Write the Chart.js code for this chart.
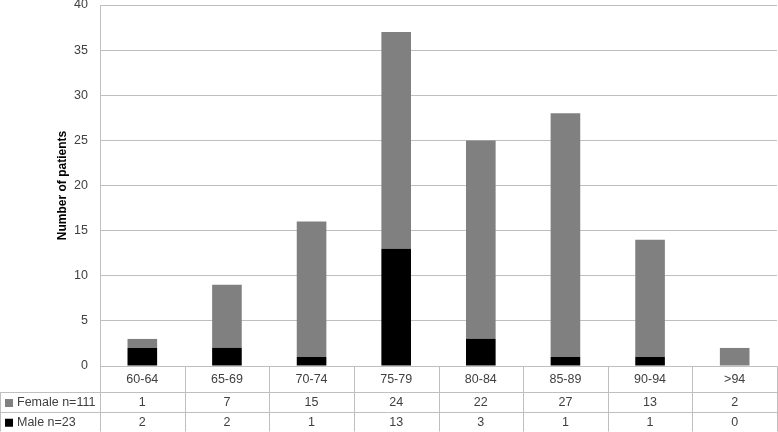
<!DOCTYPE html>
<html><head><meta charset="utf-8">
<script src="https://cdn.jsdelivr.net/npm/chart.js@4"></script>
<style>html,body{margin:0;padding:0;background:#fff}#wrap{width:778px;height:432px}</style>
</head><body><div id="wrap"><canvas id="c" width="778" height="432"></canvas></div>
<script>
const categories = ["60-64","65-69","70-74","75-79","80-84","85-89","90-94",">94"];
const female = [1,7,15,24,22,27,13,2];
const male = [2,2,1,13,3,1,1,0];
const femaleLabel = "Female n=111";
const maleLabel = "Male n=23";
const yTicks = [0,5,10,15,20,25,30,35,40];

const FONT = "'Liberation Sans', Arial, sans-serif";
const GRID = '#bfbfbf';
const TXT = '#404040';

const tablePlugin = {
  id: 'dataTable',
  afterDraw(chart) {
    const ctx = chart.ctx, xs = chart.scales.x, ca = chart.chartArea;
    const n = categories.length;
    const left = ca.left, right = ca.right, w = (right - left) / n;
    const y0 = ca.bottom, y1 = y0 + 26, y2 = y1 + 20, y3 = y2 + 19.5;
    ctx.save();
    ctx.strokeStyle = GRID; ctx.lineWidth = 1;
    ctx.beginPath();
    for (let i = 0; i <= n; i++) {
      const x = Math.round(left + i * w) + 0.5;
      ctx.moveTo(x, y0); ctx.lineTo(x, y3);
    }
    ctx.moveTo(0.5, y1); ctx.lineTo(0.5, y3);
    [y1, y2, y3].forEach(y => { ctx.moveTo(0, Math.round(y) + 0.5); ctx.lineTo(right, Math.round(y) + 0.5); });
    ctx.stroke();
    ctx.fillStyle = TXT; ctx.font = '12.5px ' + FONT;
    ctx.textAlign = 'center'; ctx.textBaseline = 'middle';
    for (let i = 0; i < n; i++) {
      const cx = xs.getPixelForValue(i);
      ctx.fillText(categories[i], cx, (y0 + y1) / 2 + 1);
      ctx.fillText(String(female[i]), cx, (y1 + y2) / 2 + 1);
      ctx.fillText(String(male[i]), cx, (y2 + y3) / 2 + 1);
    }
    ctx.textAlign = 'left';
    ctx.fillStyle = '#808080'; ctx.fillRect(5, (y1 + y2) / 2 - 3, 8, 8);
    ctx.fillStyle = '#000'; ctx.fillRect(5, (y2 + y3) / 2 - 3, 8, 8);
    ctx.fillStyle = TXT;
    ctx.fillText(femaleLabel, 17, (y1 + y2) / 2 + 1);
    ctx.fillText(maleLabel, 17, (y2 + y3) / 2 + 1);
    ctx.restore();
  }
};

new Chart(document.getElementById('c'), {
  type: 'bar',
  data: {
    labels: categories,
    datasets: [
      { label: maleLabel, data: male, backgroundColor: '#000000', barPercentage: 0.35, categoryPercentage: 1 },
      { label: femaleLabel, data: female, backgroundColor: '#808080', barPercentage: 0.35, categoryPercentage: 1 }
    ]
  },
  options: {
    responsive: false, animation: false,
    layout: { padding: { top: 5, right: 1, bottom: 66, left: 0 } },
    plugins: { legend: { display: false }, tooltip: { enabled: false } },
    scales: {
      x: {
        stacked: true,
        ticks: { display: false },
        grid: { display: false, drawTicks: false },
        border: { color: GRID }
      },
      y: {
        stacked: true, min: 0, max: 40,
        afterBuildTicks(s) { s.ticks = yTicks.map(v => ({ value: v })); },
        afterFit(s) { s.width = 100; s.paddingTop = 0; s.paddingBottom = 0; },
        ticks: { color: TXT, font: { family: FONT, size: 12.5 }, padding: 12 },
        grid: { color: GRID, drawTicks: false },
        border: { color: GRID },
        title: { display: true, text: 'Number of patients', color: '#000', font: { family: FONT, size: 12, weight: 'bold' }, padding: { top: 55, bottom: 0 } }
      }
    }
  },
  plugins: [tablePlugin]
});
</script></body></html>
